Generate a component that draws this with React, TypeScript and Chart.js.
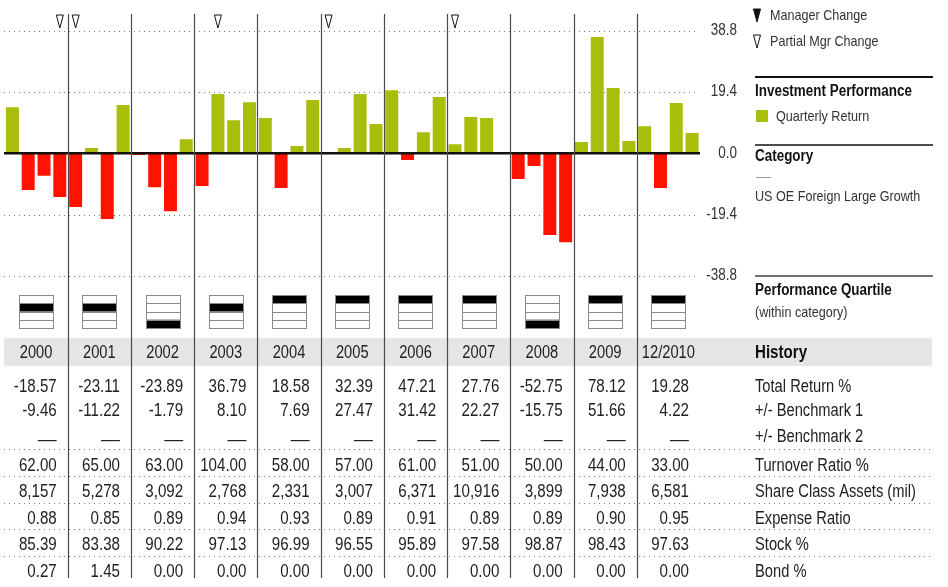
import { useEffect, useRef } from "react";
import { Chart, registerables } from "chart.js";
Chart.register(...registerables);

const FONT = "'Liberation Sans', Arial, sans-serif";
const NARROW = 0.84;

const years = ["2000", "2001", "2002", "2003", "2004", "2005", "2006", "2007", "2008", "2009", "12/2010"];
const quarterlyReturns = [
  14.6, -11.6, -7.1, -13.8,
  -17.0, 1.7, -20.8, 15.3,
  -0.5, -10.7, -18.3, 4.5,
  -10.3, 18.8, 10.5, 16.2,
  11.2, -11.0, 2.3, 16.9,
  0.0, 1.7, 18.8, 9.3,
  20.0, -2.1, 6.7, 17.8,
  2.9, 11.5, 11.2, 0.0,
  -8.1, -4.0, -25.8, -28.1,
  3.6, 36.8, 20.7, 3.9,
  8.6, -11.0, 15.9, 6.4,
];
const quarterLabels = years.flatMap((y) => ["Q1", "Q2", "Q3", "Q4"].map((q) => `${y} ${q}`));
const yTicks = [38.8, 19.4, 0, -19.4, -38.8];
const yTickLabels = ["38.8", "19.4", "0.0", "-19.4", "-38.8"];
const partialMgrChanges = [3, 4, 13, 20, 28];
const quartiles = [2, 2, 4, 2, 1, 1, 1, 1, 4, 1, 1];

const totalReturn = ["-18.57", "-23.11", "-23.89", "36.79", "18.58", "32.39", "47.21", "27.76", "-52.75", "78.12", "19.28"];
const benchmark1 = ["-9.46", "-11.22", "-1.79", "8.10", "7.69", "27.47", "31.42", "22.27", "-15.75", "51.66", "4.22"];
const benchmark2 = ["—", "—", "—", "—", "—", "—", "—", "—", "—", "—", "—"];
const turnover = ["62.00", "65.00", "63.00", "104.00", "58.00", "57.00", "61.00", "51.00", "50.00", "44.00", "33.00"];
const assets = ["8,157", "5,278", "3,092", "2,768", "2,331", "3,007", "6,371", "10,916", "3,899", "7,938", "6,581"];
const expense = ["0.88", "0.85", "0.89", "0.94", "0.93", "0.89", "0.91", "0.89", "0.89", "0.90", "0.95"];
const stock = ["85.39", "83.38", "90.22", "97.13", "96.99", "96.55", "95.89", "97.58", "98.87", "98.43", "97.63"];
const bond = ["0.27", "1.45", "0.00", "0.00", "0.00", "0.00", "0.00", "0.00", "0.00", "0.00", "0.00"];

const tableRows = [
  { label: "Total Return %", values: totalReturn },
  { label: "+/- Benchmark 1", values: benchmark1 },
  { label: "+/- Benchmark 2", values: benchmark2 },
  { label: "Turnover Ratio %", values: turnover },
  { label: "Share Class Assets (mil)", values: assets },
  { label: "Expense Ratio", values: expense },
  { label: "Stock %", values: stock },
  { label: "Bond %", values: bond },
];
const rowY = [387, 411, 437, 466, 492, 519, 545, 572];
const rowSepY = [449, 476, 503, 529, 556];

const GREEN = "#a9bd0b";
const RED = "#ff1300";

function dotted(ctx: CanvasRenderingContext2D, x1: number, x2: number, y: number) {
  ctx.save();
  ctx.strokeStyle = "#7a7a7a";
  ctx.lineWidth = 1;
  ctx.setLineDash([1, 4]);
  ctx.beginPath();
  ctx.moveTo(x1, Math.round(y) + 0.5);
  ctx.lineTo(x2, Math.round(y) + 0.5);
  ctx.stroke();
  ctx.restore();
}

function triangle(ctx: CanvasRenderingContext2D, cx: number, top: number, filled: boolean) {
  ctx.save();
  ctx.beginPath();
  ctx.moveTo(cx - 3.5, top);
  ctx.lineTo(cx + 3.5, top);
  ctx.lineTo(cx, top + 13);
  ctx.closePath();
  ctx.lineWidth = 1;
  ctx.strokeStyle = "#111";
  ctx.fillStyle = filled ? "#111" : "#fff";
  ctx.fill();
  ctx.stroke();
  ctx.restore();
}

function text(ctx: CanvasRenderingContext2D, s: string, x: number, y: number, size: number, align: CanvasTextAlign, bold = false, color = "#222", sx = NARROW) {
  ctx.save();
  ctx.font = `${bold ? "bold " : ""}${size}px ${FONT}`;
  ctx.textAlign = align;
  ctx.textBaseline = "middle";
  ctx.fillStyle = color;
  ctx.translate(x, y);
  ctx.scale(sx, 1);
  ctx.fillText(s, 0, 0);
  ctx.restore();
}

const overlayPlugin = {
  id: "overlay",
  beforeDatasetsDraw(chart: any) {
    const ctx = chart.ctx as CanvasRenderingContext2D;
    const ys = chart.scales.y;
    yTicks.forEach((t) => {
      if (t !== 0) dotted(ctx, 4, 698, ys.getPixelForValue(t));
    });
  },
  afterDatasetsDraw(chart: any) {
    const ctx = chart.ctx as CanvasRenderingContext2D;
    const xs = chart.scales.x;
    const ys = chart.scales.y;
    const step = xs.getPixelForValue(1) - xs.getPixelForValue(0);
    const left0 = xs.getPixelForValue(0) - step / 2;
    const yearLeft = (k: number) => left0 + k * 4 * step;
    const yearRight = (k: number) => left0 + (k + 1) * 4 * step;
    const yearCenter = (k: number) => left0 + (k + 0.5) * 4 * step;
    const xEnd = yearRight(years.length - 1);

    // zero line
    const y0 = ys.getPixelForValue(0);
    ctx.save();
    ctx.strokeStyle = "#111";
    ctx.lineWidth = 2.5;
    ctx.beginPath();
    ctx.moveTo(left0 - 0.5, y0);
    ctx.lineTo(xEnd, y0);
    ctx.stroke();
    ctx.restore();

    // y labels
    yTicks.forEach((t, i) => text(ctx, yTickLabels[i], 737, ys.getPixelForValue(t), 16, "right", false, "#333"));

    // history band
    ctx.save();
    ctx.fillStyle = "#e5e5e5";
    ctx.fillRect(4, 338, 928, 28);
    ctx.restore();

    // row separators
    rowSepY.forEach((y) => dotted(ctx, 4, 932, y));

    // year separators
    ctx.save();
    ctx.strokeStyle = "#4a4a4a";
    ctx.lineWidth = 1.2;
    for (let k = 1; k < years.length; k++) {
      const x = Math.round(yearLeft(k)) + 0.5;
      ctx.beginPath();
      ctx.moveTo(x, 14);
      ctx.lineTo(x, 578);
      ctx.stroke();
    }
    ctx.restore();

    // partial manager change markers
    partialMgrChanges.forEach((q) => triangle(ctx, xs.getPixelForValue(q), 15, false));

    // quartile boxes
    quartiles.forEach((q, k) => {
      const cx = yearCenter(k);
      const bw = 34, bh = 33, top = 295;
      const bx = Math.round(cx - bw / 2) + 0.5;
      const rh = bh / 4;
      ctx.save();
      ctx.fillStyle = "#000";
      ctx.fillRect(bx, top + (q - 1) * rh, bw, rh);
      ctx.strokeStyle = "#8a8a8a";
      ctx.lineWidth = 1;
      ctx.strokeRect(bx, top + 0.5, bw, bh);
      for (let r = 1; r < 4; r++) {
        const yy = Math.round(top + r * rh) + 0.5;
        ctx.beginPath();
        ctx.moveTo(bx, yy);
        ctx.lineTo(bx + bw, yy);
        ctx.stroke();
      }
      ctx.restore();
    });

    // years
    years.forEach((y, k) => text(ctx, y, yearCenter(k), 353, 17.5, "center", false, "#222"));
    text(ctx, "History", 755, 353, 18, "left", true, "#111");

    // table
    tableRows.forEach((row, r) => {
      row.values.forEach((v, k) => {
        if (v === "—") {
          text(ctx, v, yearRight(k) - 11, rowY[r] + 3, 18, "right", false, "#222", 1.05);
        } else {
          text(ctx, v, yearRight(k) - 11, rowY[r], 18, "right", false, "#222");
        }
      });
      text(ctx, row.label, 755, rowY[r], 17.5, "left", false, "#222");
    });

    // legend area
    triangle(ctx, 757, 9, true);
    text(ctx, "Manager Change", 770, 16, 15, "left", false, "#333");
    triangle(ctx, 757, 35, false);
    text(ctx, "Partial Mgr Change", 770, 42, 15, "left", false, "#333");

    ctx.save();
    ctx.strokeStyle = "#111";
    ctx.lineWidth = 2;
    ctx.beginPath();
    ctx.moveTo(755, 77);
    ctx.lineTo(933, 77);
    ctx.stroke();
    ctx.lineWidth = 1.5;
    ctx.beginPath();
    ctx.moveTo(755, 145);
    ctx.lineTo(933, 145);
    ctx.stroke();
    ctx.strokeStyle = "#444";
    ctx.beginPath();
    ctx.moveTo(755, 276);
    ctx.lineTo(933, 276);
    ctx.stroke();
    ctx.strokeStyle = "#999";
    ctx.lineWidth = 1;
    ctx.beginPath();
    ctx.moveTo(756, 177.5);
    ctx.lineTo(771, 177.5);
    ctx.stroke();
    ctx.fillStyle = GREEN;
    ctx.fillRect(756, 110, 12, 12);
    ctx.restore();

    text(ctx, "Investment Performance", 755, 92, 16, "left", true, "#111");
    text(ctx, "Quarterly Return", 776, 117, 15, "left", false, "#333");
    text(ctx, "Category", 755, 157, 16, "left", true, "#111");
    text(ctx, "US OE Foreign Large Growth", 755, 197, 15, "left", false, "#333");
    text(ctx, "Performance Quartile", 755, 291, 16, "left", true, "#111");
    text(ctx, "(within category)", 755, 313, 15, "left", false, "#333");
  },
};

export default function App() {
  const ref = useRef<HTMLCanvasElement>(null);
  useEffect(() => {
    if (!ref.current) return;
    const chart = new Chart(ref.current, {
      type: "bar",
      data: {
        labels: quarterLabels,
        datasets: [
          {
            label: "Quarterly Return",
            data: quarterlyReturns,
            backgroundColor: quarterlyReturns.map((v) => (v >= 0 ? GREEN : RED)),
            barPercentage: 0.82,
            categoryPercentage: 1,
            borderWidth: 0,
          },
        ],
      },
      options: {
        animation: false,
        responsive: true,
        maintainAspectRatio: false,
        layout: { padding: { left: 4.5, right: 248, top: 30.7, bottom: 311 } },
        plugins: { legend: { display: false }, tooltip: { enabled: false } },
        scales: {
          x: { display: false },
          y: { display: false, min: -38.8, max: 38.8 },
        },
      },
      plugins: [overlayPlugin],
    });
    return () => chart.destroy();
  }, []);
  return (
    <div style={{ position: "absolute", left: 0, top: 0, width: 948, height: 587, background: "#fff" }}>
      <canvas ref={ref} />
    </div>
  );
}
